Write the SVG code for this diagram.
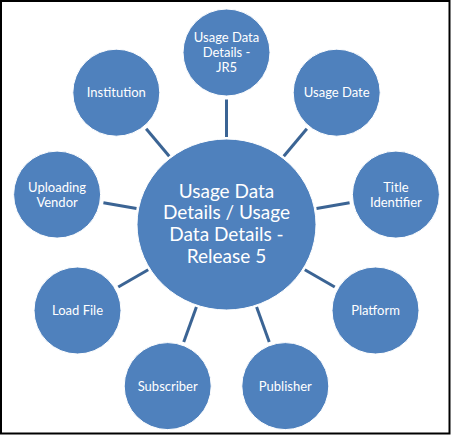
<svg xmlns="http://www.w3.org/2000/svg" width="453" height="435" viewBox="0 0 453 435">
<style>
.n{fill:#4F81BD;stroke:#FFFFFF;stroke-width:1}
.t{fill:#FFFFFF;font-family:Lato,"Liberation Sans",sans-serif;font-size:13px;text-anchor:middle}
.c{font-size:19px}
.l{stroke:#3B6494;stroke-width:3;stroke-linecap:butt}
</style>
<rect x="0" y="0" width="453" height="435" fill="#FFFFFF"/>
<rect x="1" y="1" width="448.5" height="432.5" fill="none" stroke="#000000" stroke-width="2"/>
<g id="connectors">
<line class="l" x1="226.5" y1="99.5" x2="226.5" y2="137"/>
<line class="l" x1="306.85" y1="128.75" x2="283.77" y2="156.25"/>
<line class="l" x1="349.6" y1="202.8" x2="316.5" y2="208.6"/>
<line class="l" x1="334.75" y1="287" x2="304.8" y2="269.7"/>
<line class="l" x1="269.25" y1="341.96" x2="256.6" y2="307.1"/>
<line class="l" x1="183.75" y1="341.96" x2="196.4" y2="307.1"/>
<line class="l" x1="118.25" y1="287" x2="148.2" y2="269.7"/>
<line class="l" x1="103.4" y1="202.8" x2="136.5" y2="208.6"/>
<line class="l" x1="146.15" y1="128.75" x2="169.23" y2="156.25"/>
</g>
<g id="center">
<ellipse class="n" cx="226.5" cy="224.5" rx="89.5" ry="85.5"/>
<text class="t c" x="226.5" y="197.5">Usage Data</text>
<text class="t c" x="226.5" y="219.3">Details / Usage</text>
<text class="t c" x="226.5" y="241">Data Details -</text>
<text class="t c" x="226.5" y="262.7">Release 5</text>
</g>
<g id="jr5">
<circle class="n" cx="226.5" cy="52.5" r="43.5"/>
<text class="t" x="226.5" y="42">Usage Data</text>
<text class="t" x="226.5" y="57">Details -</text>
<text class="t" x="226.5" y="72">JR5</text>
</g>
<g id="usage-date">
<circle class="n" cx="336.7" cy="92.7" r="43.5"/>
<text class="t" x="336.7" y="97.3">Usage Date</text>
</g>
<g id="title-identifier">
<circle class="n" cx="395.9" cy="194.6" r="43.5"/>
<text class="t" x="395.9" y="191.5">Title</text>
<text class="t" x="395.9" y="206.5">Identifier</text>
</g>
<g id="platform">
<circle class="n" cx="375.5" cy="310.5" r="43.5"/>
<text class="t" x="375.5" y="314.8">Platform</text>
</g>
<g id="publisher">
<circle class="n" cx="285.3" cy="386.1" r="43.5"/>
<text class="t" x="285.3" y="390.5">Publisher</text>
</g>
<g id="subscriber">
<circle class="n" cx="167.7" cy="386.1" r="43.5"/>
<text class="t" x="167.7" y="390.5">Subscriber</text>
</g>
<g id="load-file">
<circle class="n" cx="77.5" cy="310.5" r="43.5"/>
<text class="t" x="77.5" y="314.8">Load File</text>
</g>
<g id="uploading-vendor">
<circle class="n" cx="57.1" cy="194.6" r="43.5"/>
<text class="t" x="57.1" y="191.5">Uploading</text>
<text class="t" x="57.1" y="206.5">Vendor</text>
</g>
<g id="institution">
<circle class="n" cx="116.3" cy="92.7" r="43.5"/>
<text class="t" x="116.3" y="97.3">Institution</text>
</g>
</svg>
